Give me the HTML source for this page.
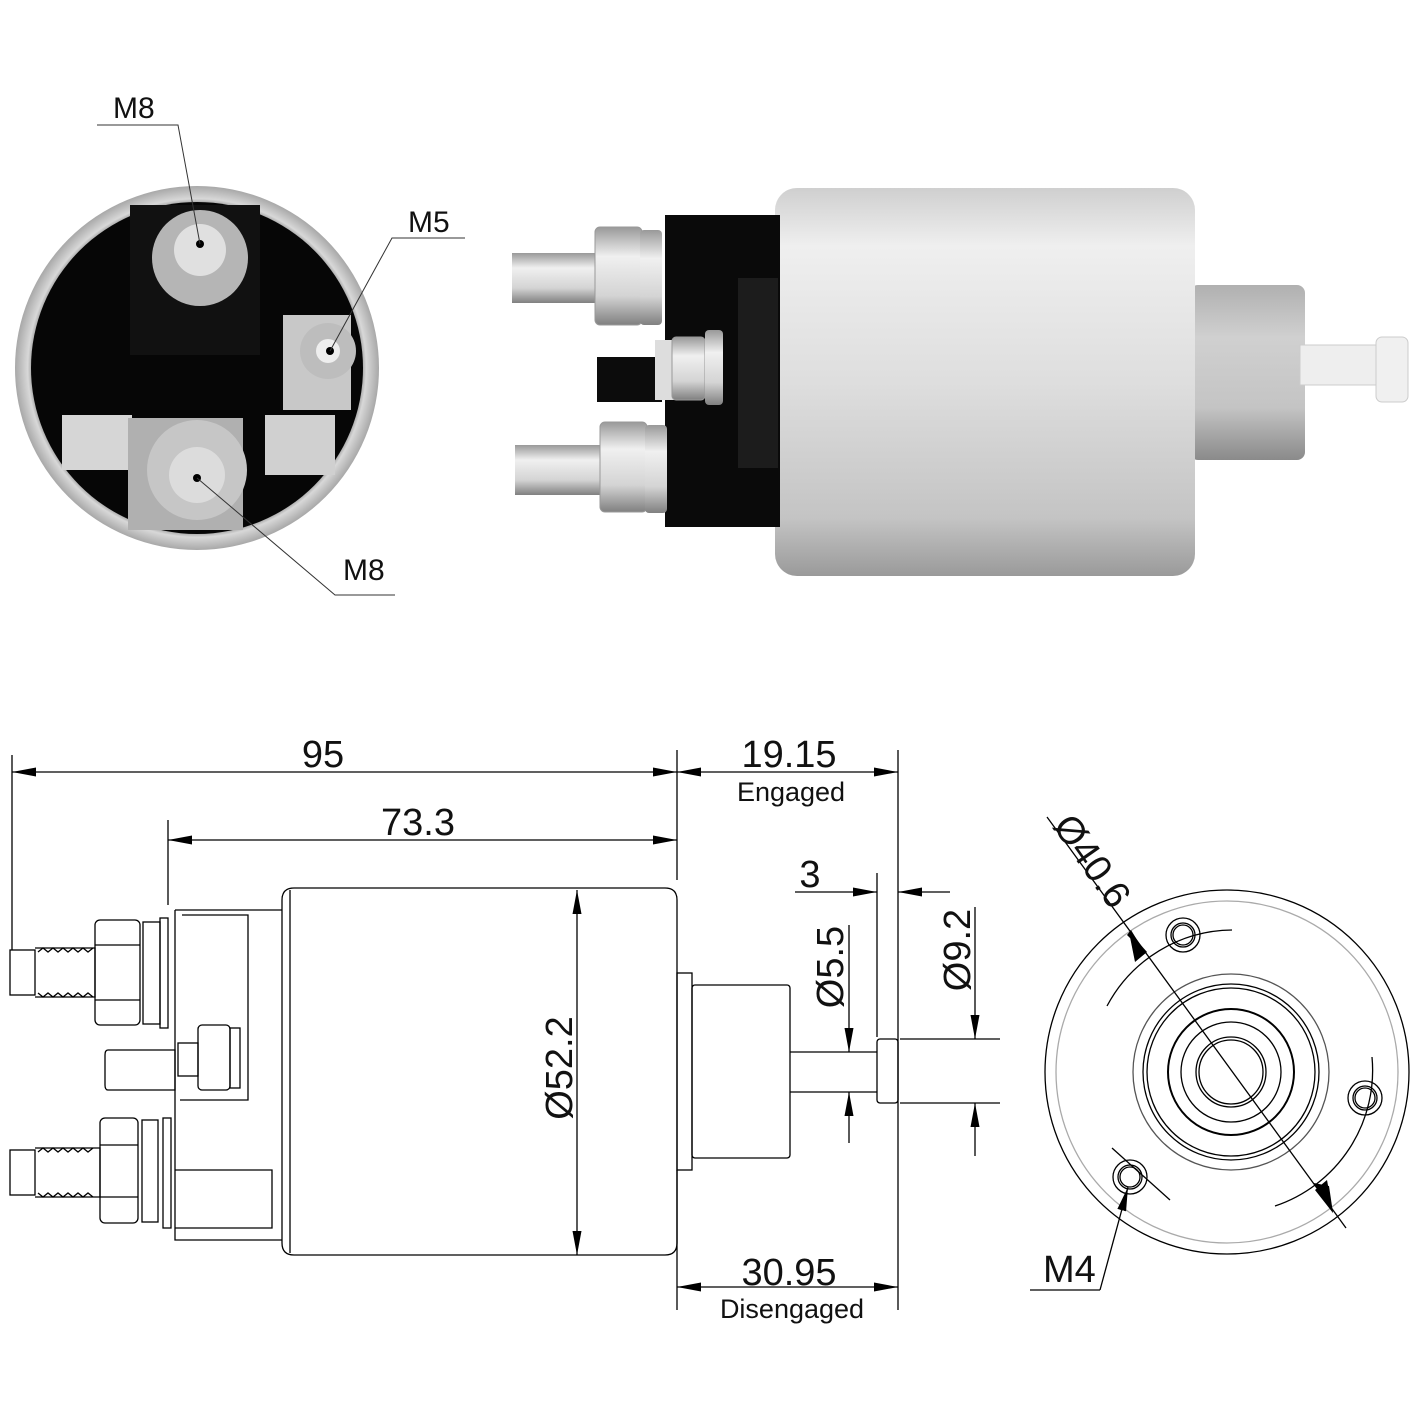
<!DOCTYPE html>
<html><head><meta charset="utf-8"><style>
html,body{margin:0;padding:0;background:#fff}
svg{display:block}
text{font-family:"Liberation Sans",sans-serif;fill:#111}
</style></head><body>
<svg width="1420" height="1420" viewBox="0 0 1420 1420" xmlns="http://www.w3.org/2000/svg">
<defs>
<linearGradient id="body" x1="0" y1="0" x2="0" y2="1">
<stop offset="0" stop-color="#cfcfcf"/><stop offset="0.15" stop-color="#efefef"/><stop offset="0.5" stop-color="#dedede"/><stop offset="0.85" stop-color="#c4c4c4"/><stop offset="1" stop-color="#9a9a9a"/></linearGradient>
<linearGradient id="hous" x1="0" y1="0" x2="0" y2="1">
<stop offset="0" stop-color="#b0b0b0"/><stop offset="0.3" stop-color="#d0d0d0"/><stop offset="0.7" stop-color="#c4c4c4"/><stop offset="1" stop-color="#8a8a8a"/></linearGradient>
<linearGradient id="met" x1="0" y1="0" x2="0" y2="1">
<stop offset="0" stop-color="#999"/><stop offset="0.3" stop-color="#f0f0f0"/><stop offset="0.7" stop-color="#d4d4d4"/><stop offset="1" stop-color="#808080"/></linearGradient>
<radialGradient id="ring" cx="0.5" cy="0.5" r="0.5">
<stop offset="0.88" stop-color="#666"/><stop offset="0.93" stop-color="#d8d8d8"/><stop offset="1" stop-color="#a8a8a8"/></radialGradient>
<marker id="a" viewBox="0 0 24 10" refX="24" refY="5" markerWidth="24" markerHeight="10" markerUnits="userSpaceOnUse" orient="auto-start-reverse"><path d="M0,0.5 L24,5 L0,9.5z" fill="#000"/></marker>
</defs>

<!-- TOP LEFT end view -->
<circle cx="197" cy="368" r="182" fill="url(#ring)"/>
<circle cx="197" cy="368" r="166" fill="#060606"/>
<path d="M130,205 h130 v150 h-130z" fill="#111"/>
<circle cx="200" cy="258" r="48" fill="#b5b5b5"/>
<circle cx="200" cy="250" r="26" fill="#e0e0e0"/>
<rect x="283" y="315" width="68" height="95" fill="#c8c8c8"/>
<circle cx="328" cy="351" r="28" fill="#bdbdbd"/>
<circle cx="328" cy="351" r="12" fill="#eee"/>
<rect x="62" y="415" width="70" height="55" fill="#d6d6d6"/>
<rect x="128" y="418" width="115" height="112" fill="#b0b0b0"/>
<circle cx="197" cy="470" r="50" fill="#c6c6c6"/>
<circle cx="197" cy="475" r="28" fill="#dcdcdc"/>
<rect x="265" y="415" width="70" height="60" fill="#d0d0d0"/>
<circle cx="200" cy="244" r="4" fill="#000"/>
<circle cx="330" cy="351" r="4" fill="#000"/>
<circle cx="197" cy="478" r="4" fill="#000"/>
<g stroke="#333" stroke-width="1" fill="none">
<path d="M97,125 H178 L200,244"/>
<path d="M465,238 H392 L330,351"/>
<path d="M395,595 H335 L197,478"/>
</g>
<text x="113" y="118" font-size="30">M8</text>
<text x="408" y="232" font-size="30">M5</text>
<text x="343" y="580" font-size="30">M8</text>

<!-- TOP RIGHT photo -->
<rect x="1190" y="285" width="115" height="175" rx="8" fill="url(#hous)"/>
<rect x="1300" y="345" width="80" height="40" fill="#eee" stroke="#ccc"/>
<rect x="1376" y="337" width="32" height="65" rx="6" fill="#f0f0f0" stroke="#ccc"/>
<rect x="775" y="188" width="420" height="388" rx="22" fill="url(#body)"/>
<path d="M665,215 H780 V527 H665z" fill="#0a0a0a"/>
<rect x="738" y="278" width="40" height="190" fill="#1c1c1c"/>
<rect x="597" y="357" width="65" height="45" fill="#0c0c0c"/>
<rect x="512" y="253" width="85" height="50" fill="url(#met)"/>
<rect x="595" y="227" width="47" height="98" rx="5" fill="url(#met)" stroke="#999"/>
<rect x="640" y="230" width="22" height="95" rx="4" fill="url(#met)"/>
<rect x="655" y="340" width="22" height="60" fill="#ddd"/>
<rect x="672" y="337" width="33" height="63" rx="4" fill="url(#met)" stroke="#999"/>
<rect x="705" y="330" width="18" height="75" rx="4" fill="url(#met)"/>
<rect x="515" y="445" width="85" height="50" fill="url(#met)"/>
<rect x="600" y="422" width="47" height="90" rx="5" fill="url(#met)" stroke="#999"/>
<rect x="645" y="425" width="22" height="88" rx="4" fill="url(#met)"/>

<!-- BOTTOM technical drawing -->
<g stroke="#000" stroke-width="1.3" fill="none">
<path d="M12,755 V950 M168,820 V905 M677,750 V880 M898,750 V1310 M877,873 V1037 M677,1170 V1310"/>
<path d="M12,772 H677" marker-start="url(#a)" marker-end="url(#a)"/>
<path d="M677,772 H898" marker-start="url(#a)" marker-end="url(#a)"/>
<path d="M168,840 H677" marker-start="url(#a)" marker-end="url(#a)"/>
<path d="M577,890 V1255" marker-start="url(#a)" marker-end="url(#a)"/>
<path d="M677,1287 H898" marker-start="url(#a)" marker-end="url(#a)"/>
<path d="M795,892 H877" marker-end="url(#a)"/>
<path d="M950,892 H898" marker-end="url(#a)"/>
<path d="M849,925 V1052" marker-end="url(#a)"/>
<path d="M849,1143 V1092" marker-end="url(#a)"/>
<path d="M975,907 V1039" marker-end="url(#a)"/>
<path d="M975,1156 V1103" marker-end="url(#a)"/>
<path d="M900,1039 H1000 M900,1103 H1000"/>
<path d="M282,900 Q282,888 294,888 H665 Q677,888 677,900 V1243 Q677,1255 665,1255 H294 Q282,1255 282,1243Z"/>
<path d="M290,890 V1253"/>
<rect x="677" y="973" width="15" height="197"/>
<rect x="692" y="985" width="98" height="173" rx="3"/>
<path d="M790,1052 H877 M790,1092 H877"/>
<rect x="877" y="1039" width="21" height="64" rx="3"/>
<path d="M175,910 H282 M175,910 V1240 H282 M182,915 H248 V1100 H180"/>
<rect x="10" y="950" width="25" height="45"/>
<path d="M35,948 H95 V997 H35"/>
<path d="M38,952 l5,-4 5,4 5,-4 5,4 5,-4 5,4 5,-4 5,4 5,-4 5,4 5,-4 M38,993 l5,4 5,-4 5,4 5,-4 5,4 5,-4 5,4 5,-4 5,4 5,-4 5,4"/>
<rect x="95" y="920" width="45" height="105" rx="5"/>
<path d="M95,945 H140 M95,1000 H140"/>
<rect x="143" y="922" width="17" height="102"/>
<rect x="160" y="918" width="8" height="110"/>
<rect x="10" y="1150" width="25" height="45"/>
<path d="M35,1148 H100 V1197 H35"/>
<path d="M38,1152 l5,-4 5,4 5,-4 5,4 5,-4 5,4 5,-4 5,4 5,-4 5,4 5,-4 M38,1193 l5,4 5,-4 5,4 5,-4 5,4 5,-4 5,4 5,-4 5,4 5,-4 5,4"/>
<rect x="100" y="1118" width="38" height="105" rx="5"/>
<path d="M100,1145 H138 M100,1197 H138"/>
<rect x="142" y="1120" width="16" height="102"/>
<rect x="163" y="1118" width="8" height="110"/>
<path d="M175,1170 H272 V1228 H175"/>
<path d="M108,1050 H175 V1090 H108 Q105,1090 105,1085 V1055 Q105,1050 108,1050Z"/>
<rect x="178" y="1043" width="20" height="33"/>
<rect x="198" y="1025" width="32" height="65" rx="4"/>
<rect x="230" y="1028" width="10" height="60"/>
</g>
<g font-size="38" text-anchor="middle">
<text x="323" y="767">95</text>
<text x="418" y="835">73.3</text>
<text x="789" y="767">19.15</text>
<text x="789" y="1285">30.95</text>
<text x="810" y="887">3</text>
</g>
<text x="791" y="801" font-size="27" text-anchor="middle">Engaged</text>
<text x="792" y="1318" font-size="27" text-anchor="middle">Disengaged</text>
<text font-size="38" text-anchor="middle" transform="translate(572,1068) rotate(-90)">Ø52.2</text>
<text font-size="38" text-anchor="middle" transform="translate(843,967) rotate(-90)">Ø5.5</text>
<text font-size="38" text-anchor="middle" transform="translate(970,950) rotate(-90)">Ø9.2</text>

<!-- right end view -->
<g fill="none" stroke="#000" stroke-width="1.3">
<circle cx="1227" cy="1072" r="182"/>
<circle cx="1227" cy="1072" r="171" stroke="#aaa"/>
<circle cx="1231" cy="1072" r="98" stroke="#555"/>
<circle cx="1231" cy="1072" r="88"/>
<circle cx="1231" cy="1072" r="84"/>
<circle cx="1231" cy="1072" r="63" stroke-width="2"/>
<circle cx="1231" cy="1072" r="50"/>
<circle cx="1231" cy="1072" r="35"/>
<circle cx="1231" cy="1072" r="32"/>
<circle cx="1183" cy="935" r="17"/><circle cx="1183" cy="935" r="12"/><circle cx="1183" cy="935" r="10"/>
<circle cx="1365" cy="1098" r="17"/><circle cx="1365" cy="1098" r="12"/><circle cx="1365" cy="1098" r="10"/>
<circle cx="1130" cy="1177" r="17"/><circle cx="1130" cy="1177" r="12"/><circle cx="1130" cy="1177" r="10"/>
<path d="M1232,930 A143,143 0 0 0 1107,1006"/>
<path d="M1372,1057 A143,143 0 0 1 1275,1206"/>
<path d="M1112,1148 L1170,1200"/>
<path d="M1047,817 L1346,1228"/>
<path d="M1100,1290 H1030"/>
<path d="M1100,1290 L1128,1187" marker-end="url(#a)"/>
</g>
<path d="M1145,953 L1127,935 L1131,930 Z" fill="#000"/>
<path d="M1135,962 L1129,932 L1147,952 Z" fill="#000"/>
<path d="M1333,1213 L1314,1183 L1329,1186 Z" fill="#000"/>
<path d="M1333,1213 L1315,1190 L1327,1180 Z" fill="#000"/>
<text x="1043" y="1282" font-size="38">M4</text>
<text font-size="38" transform="translate(1052,826) rotate(55)">Ø40.6</text>
</svg>
</body></html>
